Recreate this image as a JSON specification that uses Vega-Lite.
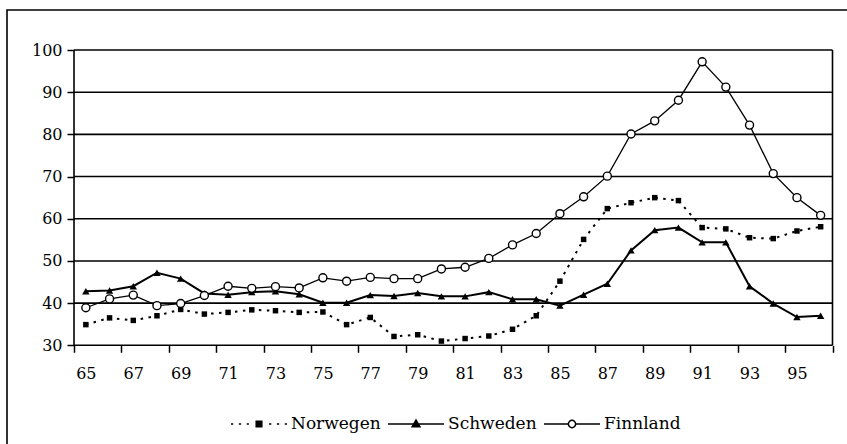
{
  "$schema": "https://vega.github.io/schema/vega-lite/v6.json",
  "autosize": {"type": "none"},
  "padding": {"left": 7, "top": 10, "right": -3, "bottom": -3},
  "width": 843,
  "height": 437,
  "background": "white",
  "config": {
    "view": {"stroke": "black", "strokeWidth": 1.6},
    "font": "DejaVu Serif"
  },
  "datasets": {
    "main": [
      {"year": 65, "Norwegen": 34.9, "Schweden": 42.8, "Finnland": 38.9},
      {"year": 66, "Norwegen": 36.5, "Schweden": 43.0, "Finnland": 41.0},
      {"year": 67, "Norwegen": 35.9, "Schweden": 44.0, "Finnland": 41.9},
      {"year": 68, "Norwegen": 37.0, "Schweden": 47.2, "Finnland": 39.4},
      {"year": 69, "Norwegen": 38.5, "Schweden": 45.8, "Finnland": 39.9},
      {"year": 70, "Norwegen": 37.4, "Schweden": 42.3, "Finnland": 41.8},
      {"year": 71, "Norwegen": 37.8, "Schweden": 42.0, "Finnland": 44.0},
      {"year": 72, "Norwegen": 38.4, "Schweden": 42.6, "Finnland": 43.5},
      {"year": 73, "Norwegen": 38.2, "Schweden": 42.8, "Finnland": 43.9},
      {"year": 74, "Norwegen": 37.8, "Schweden": 42.1, "Finnland": 43.6},
      {"year": 75, "Norwegen": 37.9, "Schweden": 40.1, "Finnland": 46.0},
      {"year": 76, "Norwegen": 34.9, "Schweden": 40.1, "Finnland": 45.2},
      {"year": 77, "Norwegen": 36.6, "Schweden": 41.9, "Finnland": 46.1},
      {"year": 78, "Norwegen": 32.1, "Schweden": 41.7, "Finnland": 45.8},
      {"year": 79, "Norwegen": 32.5, "Schweden": 42.4, "Finnland": 45.8},
      {"year": 80, "Norwegen": 31.0, "Schweden": 41.6, "Finnland": 48.1},
      {"year": 81, "Norwegen": 31.6, "Schweden": 41.6, "Finnland": 48.5},
      {"year": 82, "Norwegen": 32.2, "Schweden": 42.6, "Finnland": 50.6},
      {"year": 83, "Norwegen": 33.8, "Schweden": 40.9, "Finnland": 53.8},
      {"year": 84, "Norwegen": 37.0, "Schweden": 40.9, "Finnland": 56.5},
      {"year": 85, "Norwegen": 45.2, "Schweden": 39.4, "Finnland": 61.2},
      {"year": 86, "Norwegen": 55.1, "Schweden": 42.0, "Finnland": 65.2},
      {"year": 87, "Norwegen": 62.4, "Schweden": 44.6, "Finnland": 70.1},
      {"year": 88, "Norwegen": 63.8, "Schweden": 52.5, "Finnland": 80.1},
      {"year": 89, "Norwegen": 65.0, "Schweden": 57.3, "Finnland": 83.2},
      {"year": 90, "Norwegen": 64.3, "Schweden": 57.9, "Finnland": 88.1},
      {"year": 91, "Norwegen": 57.9, "Schweden": 54.4, "Finnland": 97.2},
      {"year": 92, "Norwegen": 57.6, "Schweden": 54.4, "Finnland": 91.2},
      {"year": 93, "Norwegen": 55.5, "Schweden": 44.0, "Finnland": 82.2},
      {"year": 94, "Norwegen": 55.3, "Schweden": 39.9, "Finnland": 70.7},
      {"year": 95, "Norwegen": 57.1, "Schweden": 36.7, "Finnland": 65.0},
      {"year": 96, "Norwegen": 58.1, "Schweden": 37.0, "Finnland": 60.8}
    ],
    "grid": [
      {"level": 30}, {"level": 40}, {"level": 50}, {"level": 60},
      {"level": 70}, {"level": 80}, {"level": 90}, {"level": 100}
    ],
    "edges": [{"pos": 64.5}, {"pos": 96.5}]
  },
  "layer": [
    {
      "data": {"name": "grid"},
      "mark": {"type": "rule", "color": "black", "strokeWidth": 1.6},
      "encoding": {
        "y": {"field": "level", "type": "quantitative", "title": null,
              "scale": {"domain": [5.892, 109.482], "nice": false, "zero": false}},
        "x": {"datum": 64.5, "type": "quantitative",
              "scale": {"domain": [61.673, 97.238], "nice": false, "zero": false}},
        "x2": {"datum": 96.5}
      }
    },
    {
      "data": {"name": "edges"},
      "mark": {"type": "rule", "color": "black", "strokeWidth": 1.6},
      "encoding": {
        "x": {"field": "pos", "type": "quantitative", "title": null,
              "scale": {"domain": [61.673, 97.238], "nice": false, "zero": false}},
        "y": {"datum": 30, "type": "quantitative",
              "scale": {"domain": [5.892, 109.482], "nice": false, "zero": false}},
        "y2": {"datum": 100}
      }
    },
    {
      "data": {"name": "main"},
      "transform": [
        {"fold": ["Norwegen", "Schweden", "Finnland"], "as": ["country", "value"]}
      ],
      "encoding": {
        "x": {"field": "year", "type": "quantitative",
              "scale": {"domain": [61.673, 97.238], "nice": false, "zero": false},
              "axis": {
                "title": null,
                "values": [64.5, 65.5, 66.5, 67.5, 68.5, 69.5, 70.5, 71.5, 72.5, 73.5, 74.5, 75.5, 76.5, 77.5, 78.5, 79.5, 80.5, 81.5, 82.5, 83.5, 84.5, 85.5, 86.5, 87.5, 88.5, 89.5, 90.5, 91.5, 92.5, 93.5, 94.5, 95.5, 96.5],
                "offset": -101.7,
                "domain": false,
                "grid": false,
                "tickSize": 7,
                "tickWidth": 1.5,
                "tickColor": "black",
                "labelExpr": "((datum.value + 0.5) % 2 == 1 && datum.value < 96) ? ('' + (datum.value + 0.5)) : ''",
                "labelOffset": 11.85,
                "labelFont": "DejaVu Serif",
                "labelFontSize": 16,
                "labelColor": "black",
                "labelPadding": 13,
                "labelOverlap": false,
                "labelFlush": false,
                "labelBound": false
              }},
        "y": {"field": "value", "type": "quantitative",
              "scale": {"domain": [5.892, 109.482], "nice": false, "zero": false},
              "axis": {
                "title": null,
                "values": [30, 40, 50, 60, 70, 80, 90, 100],
                "offset": -67,
                "domain": false,
                "grid": false,
                "tickSize": 7,
                "tickWidth": 1.5,
                "tickColor": "black",
                "labelFont": "DejaVu Serif",
                "labelFontSize": 16,
                "labelColor": "black",
                "labelPadding": 5,
                "labelFlush": false,
                "labelBound": false
              }}
      },
      "layer": [
        {
          "transform": [{"filter": "datum.country === 'Norwegen'"}],
          "mark": {"type": "line", "color": "black", "strokeWidth": 2, "strokeDash": [2.5, 5.5]}
        },
        {
          "transform": [{"filter": "datum.country === 'Schweden'"}],
          "mark": {"type": "line", "color": "black", "strokeWidth": 2}
        },
        {
          "transform": [{"filter": "datum.country === 'Finnland'"}],
          "mark": {"type": "line", "color": "black", "strokeWidth": 1.3}
        },
        {
          "transform": [{"filter": "datum.country === 'Norwegen'"}],
          "mark": {"type": "point", "shape": "square", "size": 30, "filled": true, "color": "black", "opacity": 1}
        },
        {
          "transform": [{"filter": "datum.country === 'Schweden'"}],
          "mark": {"type": "point", "shape": "triangle-up", "size": 55, "filled": true, "color": "black", "opacity": 1}
        },
        {
          "transform": [{"filter": "datum.country === 'Finnland'"}],
          "mark": {"type": "point", "shape": "circle", "size": 64, "fill": "white", "stroke": "black", "strokeWidth": 1.4, "opacity": 1}
        },
        {
          "transform": [{"filter": "datum.year < 0"}],
          "mark": {"type": "point", "stroke": "black", "strokeWidth": 1.5, "opacity": 1},
          "encoding": {
            "shape": {"field": "country", "type": "nominal",
                      "scale": {"domain": ["Norwegen", "Schweden", "Finnland"],
                                "range": [
                                  "M-1,0h0.08M-0.72,0h0.08M-0.44,0h0.08M-0.1,-0.1h0.2v0.2h-0.2zM0.36,0h0.08M0.64,0h0.08M0.92,0h0.08",
                                  "M-1,0H1M-0.14,0.1L0,-0.14L0.14,0.1Z",
                                  "M-1,0H-0.13M0.13,0H1M0.13,0A0.13,0.13,0,1,1,-0.13,0A0.13,0.13,0,1,1,0.13,0Z"
                                ]},
                      "legend": {
                        "orient": "none",
                        "legendX": 223,
                        "legendY": 385,
                        "direction": "horizontal",
                        "title": null,
                        "padding": 0,
                        "symbolSize": 3136,
                        "symbolStrokeWidth": 1.5,
                        "symbolOpacity": 1,
                        "labelFont": "DejaVu Serif",
                        "labelFontSize": 17,
                        "labelColor": "black",
                        "labelOffset": 3,
                        "columnPadding": 4
                      }},
            "fill": {"field": "country", "type": "nominal",
                     "scale": {"domain": ["Norwegen", "Schweden", "Finnland"],
                               "range": ["black", "black", "white"]}}
          }
        }
      ]
    }
  ]
}
